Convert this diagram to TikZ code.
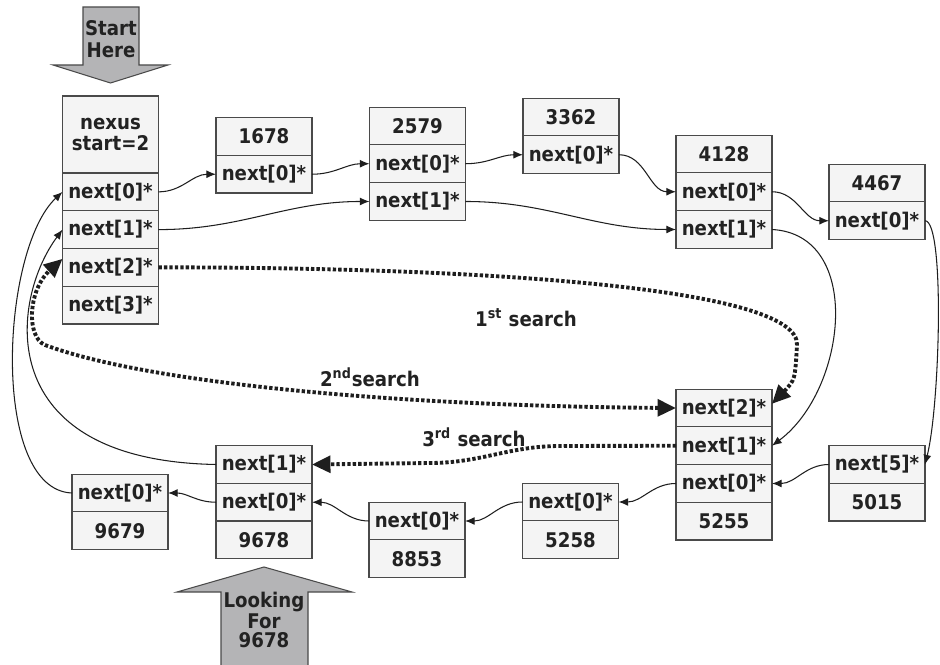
\documentclass[tikz,border=0pt]{standalone}
\usepackage{fontspec}
\setmainfont{DejaVu Sans}[FakeStretch=0.9]
\usetikzlibrary{arrows.meta, positioning}

\begin{document}
\begin{tikzpicture}[
    x=0.02cm, y=-0.02cm,
    every node/.style={font=\bfseries\fontsize{11.5}{12.5}\selectfont, text=textcolor},
    cell/.style={draw=boxline, fill=boxfill, line width=0.7pt, minimum width=1.92cm,
        minimum height=0.755cm, inner sep=0pt, outer sep=0pt},
    link/.style={-{Latex[length=5.5pt, width=4.5pt]}, line width=0.6pt, linkcolor},
    bigtip/.tip={Triangle[length=10.5pt, width=9.5pt]},
    search/.style={-bigtip, line width=2.2pt, dash pattern=on 1.9pt off 1.2pt, linkcolor},
    pointer/.style={fill=arrowfill, draw=boxline, line width=0.6pt},
]

\definecolor{boxfill}{HTML}{F4F4F4}
\definecolor{boxline}{HTML}{4A4A4A}
\definecolor{linkcolor}{HTML}{1E1E1E}
\definecolor{textcolor}{HTML}{222222}
\definecolor{arrowfill}{HTML}{B4B4B6}

\useasboundingbox (0,0) rectangle (940,665);

% ---------------------------------------------------------------- pointers in and out
\filldraw[pointer] (83,7) -- (139,7) -- (139,65) -- (168,65) -- (110.5,83)
    -- (53,65) -- (83,65) -- cycle;
\node[align=center] (start) at (111,39) {Start\\Here};

\filldraw[pointer] (264,567) -- (352,592) -- (308,592) -- (308,670)
    -- (221,670) -- (221,592) -- (177,592) -- cycle;
\node[align=center, font=\bfseries\fontsize{11.5}{10.5}\selectfont]
    (looking) at (264,620) {Looking\\For\\9678};

% ---------------------------------------------------------------- nexus
\node[cell, minimum height=1.54cm, align=center] (nexus) at (110.5,134.5) {nexus\\start=2};
\node[cell, below=0pt of nexus] (nexus0) {next[0]*};
\node[cell, below=0pt of nexus0] (nexus1) {next[1]*};
\node[cell, below=0pt of nexus1] (nexus2) {next[2]*};
\node[cell, below=0pt of nexus2] (nexus3) {next[3]*};

% ---------------------------------------------------------------- top row
\node[cell] (v1678) at (264,136.5) {1678};
\node[cell, below=0pt of v1678] (v1678n0) {next[0]*};

\node[cell] (v2579) at (417.5,126) {2579};
\node[cell, below=0pt of v2579] (v2579n0) {next[0]*};
\node[cell, below=0pt of v2579n0] (v2579n1) {next[1]*};

\node[cell] (v3362) at (571,117) {3362};
\node[cell, below=0pt of v3362] (v3362n0) {next[0]*};

\node[cell] (v4128) at (724,154) {4128};
\node[cell, below=0pt of v4128] (v4128n0) {next[0]*};
\node[cell, below=0pt of v4128n0] (v4128n1) {next[1]*};

\node[cell] (v4467) at (877,183) {4467};
\node[cell, below=0pt of v4467] (v4467n0) {next[0]*};

% ---------------------------------------------------------------- bottom row
\node[cell] (v5015n5) at (877,464.5) {next[5]*};
\node[cell, below=0pt of v5015n5] (v5015) {5015};

\node[cell] (v5255n2) at (724,408) {next[2]*};
\node[cell, below=0pt of v5255n2] (v5255n1) {next[1]*};
\node[cell, below=0pt of v5255n1] (v5255n0) {next[0]*};
\node[cell, below=0pt of v5255n0] (v5255) {5255};

\node[cell] (v5258n0) at (570.5,502) {next[0]*};
\node[cell, below=0pt of v5258n0] (v5258) {5258};

\node[cell] (v8853n0) at (417,521) {next[0]*};
\node[cell, below=0pt of v8853n0] (v8853) {8853};

\node[cell] (v9678n1) at (264,464.5) {next[1]*};
\node[cell, below=0pt of v9678n1] (v9678n0) {next[0]*};
\node[cell, below=0pt of v9678n0] (v9678) {9678};

\node[cell] (v9679n0) at (120,493) {next[0]*};
\node[cell, below=0pt of v9679n0] (v9679) {9679};

% ---------------------------------------------------------------- links
\draw[link] (nexus0.east) to[out=0, in=180] (v1678n0.west);
\draw[link] (nexus1.east) to[out=0, in=180] (v2579n1.west);
\draw[link] (v1678n0.east) to[out=0, in=180] (v2579n0.west);
\draw[link] (v2579n0.east) to[out=0, in=180] (v3362n0.west);
\draw[link] (v2579n1.east) to[out=0, in=180] (v4128n1.west);
\draw[link] (v3362n0.east) to[out=0, in=180] (v4128n0.west);
\draw[link] (v4128n0.east) to[out=0, in=180] (v4467n0.west);
\draw[link] (v4128n1.east) .. controls +(92,5) and +(75,-56) .. (v5255n1.east);
\draw[link] (v4467n0.east) .. controls +(20,0) and +(15,-60) .. (v5015n5.east);
\draw[link] (v5015n5.west) to[out=180, in=0] (v5255n0.east);
\draw[link] (v5255n0.west) to[out=180, in=0] (v5258n0.east);
\draw[link] (v5258n0.west) to[out=180, in=0] (v8853n0.east);
\draw[link] (v8853n0.west) to[out=180, in=0] (v9678n0.east);
\draw[link] (v9678n0.west) to[out=180, in=0] (v9679n0.east);
\draw[link] (v9678n1.west) .. controls +(-226,-4) and +(-52,70) .. (nexus1.west);
\draw[link] (v9679n0.west) .. controls +(-82,-3) and +(-62,58) .. (nexus0.west);

% ---------------------------------------------------------------- searches
\draw[search] (nexus2.east) .. controls +(350,0) and (800,290) .. (797,345)
    .. controls (795,380) .. (v5255n2.5);
\draw[search, bigtip-bigtip] (v5255n2.west) .. controls (400,406) and (150,384) .. (45,345)
    .. controls (26,337) and (28,290) .. (nexus2.170);
\draw[search] (v5255n1.west) -- (560,446) to[out=180, in=0] (430,463)
    -- (v9678n1.east);

\node (first) at (526,318) {1\textsuperscript{st} search};
\node (second) at (370,377) {2\textsuperscript{nd}search};
\node (third) at (474,437) {3\textsuperscript{rd} search};

\end{tikzpicture}
\end{document}
